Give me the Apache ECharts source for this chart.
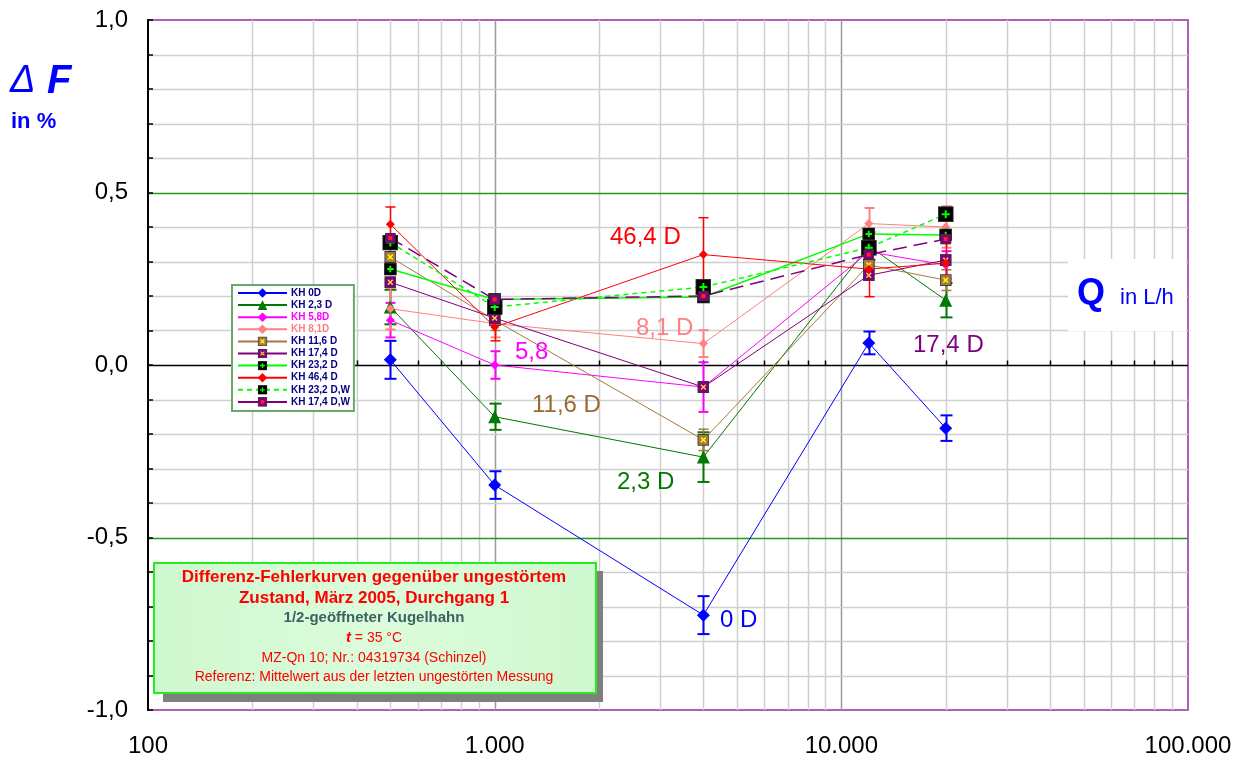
<!DOCTYPE html>
<html>
<head>
<meta charset="utf-8">
<title>Differenz-Fehlerkurven</title>
<script src="https://cdn.jsdelivr.net/npm/echarts@6/dist/echarts.min.js"></script>
<style>
  html, body { margin: 0; padding: 0; background: #ffffff; }
  #chart { width: 1245px; height: 762px; }
</style>
</head>
<body>
<div id="chart"></div>
<script>
// Durchfluss Q in L/h
const flows = [500, 1000, 4000, 12000, 20000];

// Differenz-Fehler ΔF in % je Kugelhahn-Stellung, mit Streuung
const kh0 = [0.015, -0.348, -0.725, 0.064, -0.183];
const kh0Err = [0.055, 0.04, 0.055, 0.033, 0.037];
const kh23 = [0.168, -0.150, -0.267, 0.345, 0.188];
const kh23Err = [0.05, 0.038, 0.072, 0.04, 0.05];
const kh58 = [0.13, 0.0, -0.064, 0.328, 0.29];
const kh58Err = [0.05, 0.04, 0.072, 0.04, 0.04];
const kh81 = [0.163, 0.12, 0.062, 0.41, 0.40];
const kh81Err = [0.06, 0.04, 0.039, 0.045, 0.06];
const kh116 = [0.313, 0.13, -0.217, 0.29, 0.246];
const kh116Err = [0.03, 0.03, 0.031, 0.03, 0.03];
const kh174 = [0.24, 0.136, -0.064, 0.26, 0.304];
const kh232 = [0.278, 0.19, 0.197, 0.38, 0.377];
const kh464 = [0.408, 0.11, 0.32, 0.278, 0.295];
const kh464Err = [0.05, 0.04, 0.107, 0.08, 0.06];
const kh232w = [0.355, 0.168, 0.226, 0.34, 0.437];
const kh174w = [0.368, 0.19, 0.2, 0.32, 0.365];

// Achsenbeschriftung und Gitter
const xTicks = [100, 1000, 10000, 100000];
const minorQ = [200, 300, 400, 500, 600, 700, 800, 900,
                2000, 3000, 4000, 5000, 6000, 7000, 8000, 9000,
                20000, 30000, 40000, 50000, 60000, 70000, 80000, 90000];
const majorQ = [1000, 10000];
const yLines = [-0.9, -0.8, -0.7, -0.6, -0.4, -0.3, -0.2, -0.1,
                0.1, 0.2, 0.3, 0.4, 0.6, 0.7, 0.8, 0.9];
const greenLines = [-0.5, 0.5];

const FONT = "'Liberation Sans', Arial, Helvetica, sans-serif";

// compound square markers as small SVG images
function svgSymbol(size, fill, inner) {
  const svg = '<svg xmlns="http://www.w3.org/2000/svg" width="' + size + '" height="' + size +
    '" viewBox="0 0 ' + size + ' ' + size + '">' +
    '<rect x="0.5" y="0.5" width="' + (size - 1) + '" height="' + (size - 1) + '" fill="' + fill +
    '" stroke="#303030" stroke-width="1"/>' + inner + '</svg>';
  return 'image://data:image/svg+xml;charset=utf-8,' + encodeURIComponent(svg);
}
function crossX(size, color) {
  const a = size * 0.3, b = size * 0.7;
  return '<path d="M' + a + ' ' + a + 'L' + b + ' ' + b + 'M' + b + ' ' + a + 'L' + a + ' ' + b +
    '" stroke="' + color + '" stroke-width="1.5"/>';
}
function plus(size, color) {
  const c = size / 2, a = size * 0.25, b = size * 0.75;
  return '<path d="M' + c + ' ' + a + 'L' + c + ' ' + b + 'M' + a + ' ' + c + 'L' + b + ' ' + c +
    '" stroke="' + color + '" stroke-width="2"/>';
}
function dot(size, color) {
  const s = size * 0.36, o = (size - s) / 2;
  return '<rect x="' + o + '" y="' + o + '" width="' + s + '" height="' + s + '" fill="' + color + '"/>';
}

const symBrown = svgSymbol(12, '#a8783f', crossX(12, '#ffff00'));
const symPurple = svgSymbol(12, '#800080', crossX(12, '#ffcc33'));
const symBlack = svgSymbol(13, '#000000', plus(13, '#00ff00'));
const symBlackBig = svgSymbol(16, '#000000', plus(16, '#00ff00'));
const symPurpleRed = svgSymbol(11, '#800080', dot(11, '#ff2020'));

const seriesDefs = [
  { name: 'KH 0D', data: kh0, err: kh0Err, color: '#0000ff', symbol: 'diamond', size: 13, errWidth: 2, cap: 6 },
  { name: 'KH 2,3 D', data: kh23, err: kh23Err, color: '#007a00', symbol: 'triangle', size: 13, errWidth: 2, cap: 6 },
  { name: 'KH 5,8D', data: kh58, err: kh58Err, color: '#ff00ff', symbol: 'diamond', size: 9, errWidth: 2, cap: 5 },
  { name: 'KH 8,1D', data: kh81, err: kh81Err, color: '#ff8080', symbol: 'diamond', size: 9, errWidth: 2, cap: 5 },
  { name: 'KH 11,6 D', data: kh116, err: kh116Err, color: '#a8783f', symbol: symBrown, size: 12, errWidth: 1.5, cap: 5 },
  { name: 'KH 17,4 D', data: kh174, color: '#800080', symbol: symPurple, size: 12 },
  { name: 'KH 23,2 D', data: kh232, color: '#00ff00', symbol: symBlack, size: 13, lineWidth: 1.5 },
  { name: 'KH 46,4 D', data: kh464, err: kh464Err, color: '#ff0000', symbol: 'diamond', size: 9, errWidth: 1.5, cap: 5 },
  { name: 'KH 23,2 D,W', data: kh232w, color: '#00ff00', symbol: symBlackBig, size: 16, lineWidth: 1.5, dash: [5, 4] },
  { name: 'KH 17,4 D,W', data: kh174w, color: '#800080', symbol: symPurpleRed, size: 11, lineWidth: 1.5, dash: [14, 7] }
];

// background grid, coloured reference lines and minor ticks on the zero line
function renderGrid(params, api) {
  const cs = params.coordSys;
  const left = cs.x, right = cs.x + cs.width, top = cs.y, bottom = cs.y + cs.height;
  const children = [];
  minorQ.forEach(function (q) {
    const x = Math.round(api.coord([q, 0])[0]) + 0.5;
    children.push({ type: 'line', shape: { x1: x, y1: top, x2: x, y2: bottom },
      style: { stroke: '#cfcfcf', lineWidth: 1.5 } });
  });
  majorQ.forEach(function (q) {
    const x = Math.round(api.coord([q, 0])[0]) + 0.5;
    children.push({ type: 'line', shape: { x1: x, y1: top, x2: x, y2: bottom },
      style: { stroke: '#9a9a9a', lineWidth: 1.5 } });
  });
  yLines.forEach(function (v) {
    const y = Math.round(api.coord([1000, v])[1]) + 0.5;
    children.push({ type: 'line', shape: { x1: left, y1: y, x2: right, y2: y },
      style: { stroke: '#cfcfcf', lineWidth: 1.5 } });
  });
  greenLines.forEach(function (v) {
    const y = Math.round(api.coord([1000, v])[1]) + 0.5;
    children.push({ type: 'line', shape: { x1: left, y1: y, x2: right, y2: y },
      style: { stroke: '#1f9a1f', lineWidth: 1.5 } });
  });
  const y0 = Math.round(api.coord([1000, 0])[1]) + 0.5;
  children.push({ type: 'line', shape: { x1: left, y1: y0, x2: right, y2: y0 },
    style: { stroke: '#000000', lineWidth: 1.5 } });
  minorQ.forEach(function (q) {
    const x = Math.round(api.coord([q, 0])[0]) + 0.5;
    children.push({ type: 'line', shape: { x1: x, y1: y0, x2: x, y2: y0 - 5 },
      style: { stroke: '#000000', lineWidth: 1.5 } });
  });
  return { type: 'group', children: children };
}

function errRenderer(color, width, cap) {
  return function (params, api) {
    const q = api.value(0), v = api.value(1), e = api.value(2);
    const hi = api.coord([q, v + e]);
    const lo = api.coord([q, v - e]);
    const x = Math.round(hi[0]) + 0.5;
    return {
      type: 'group',
      children: [
        { type: 'line', shape: { x1: x, y1: hi[1], x2: x, y2: lo[1] }, style: { stroke: color, lineWidth: width } },
        { type: 'line', shape: { x1: x - cap, y1: hi[1], x2: x + cap, y2: hi[1] }, style: { stroke: color, lineWidth: width } },
        { type: 'line', shape: { x1: x - cap, y1: lo[1], x2: x + cap, y2: lo[1] }, style: { stroke: color, lineWidth: width } }
      ]
    };
  };
}

const series = [{
  type: 'custom', name: 'grid', silent: true, z: 0,
  data: [[1000, 0]], renderItem: renderGrid, clip: false
}];

seriesDefs.forEach(function (d) {
  if (d.err) {
    series.push({
      type: 'custom', name: d.name + ' err', silent: true, z: 2,
      data: flows.map(function (q, i) { return [q, d.data[i], d.err[i]]; }),
      encode: { x: 0, y: 1 },
      renderItem: errRenderer(d.color, d.errWidth, d.cap)
    });
  }
});

seriesDefs.forEach(function (d) {
  series.push({
    type: 'line', name: d.name, z: 3,
    data: flows.map(function (q, i) { return [q, d.data[i]]; }),
    symbol: d.symbol, symbolSize: d.size, showSymbol: true,
    itemStyle: { color: d.color, borderWidth: 0 },
    lineStyle: { color: d.color, width: d.lineWidth || 1, type: d.dash || 'solid' },
    emphasis: { disabled: true }
  });
});

const legendData = seriesDefs.map(function (d) {
  const item = { name: d.name };
  if (d.name === 'KH 5,8D') item.textStyle = { color: '#ff00ff' };
  if (d.name === 'KH 8,1D') item.textStyle = { color: '#ff8080' };
  if (d.name === 'KH 17,4 D,W') item.lineStyle = { type: 'solid' };
  return item;
});

function fmtQ(v) {
  return String(Math.round(v)).replace(/\B(?=(\d{3})+(?!\d))/g, '.');
}
function fmtF(v) {
  const t = Math.round(v * 10);
  if (t % 5 !== 0) return '';
  const s = (Math.abs(t) / 10).toFixed(1).replace('.', ',');
  return t < 0 ? '-' + s : s;
}

// free-standing curve labels
function curveLabel(text, x, y, color) {
  return { type: 'text', left: x, top: y, z: 50,
    style: { text: text, fill: color, font: '24px ' + FONT } };
}

const chart = echarts.init(document.getElementById('chart'), null, { renderer: 'canvas' });
chart.setOption({
  animation: false,
  backgroundColor: '#ffffff',
  grid: { left: 148, right: 57, top: 20, bottom: 52, show: true,
    borderColor: '#b060b0', borderWidth: 2, backgroundColor: 'transparent' },
  xAxis: {
    type: 'log', logBase: 10, min: xTicks[0], max: xTicks[xTicks.length - 1],
    axisLine: { show: false, onZero: false }, axisTick: { show: false },
    splitLine: { show: false }, minorTick: { show: false },
    axisLabel: { formatter: fmtQ, fontSize: 24, fontFamily: FONT, color: '#000000', margin: 24 }
  },
  yAxis: {
    type: 'value', min: -1, max: 1, interval: 0.1,
    axisLine: { show: true, lineStyle: { color: '#000000', width: 2 } },
    axisTick: { show: true, inside: true, length: 5, lineStyle: { color: '#000000', width: 1.5 } },
    splitLine: { show: false },
    axisLabel: { formatter: fmtF, interval: 0, fontSize: 24, fontFamily: FONT, color: '#000000', margin: 20 }
  },
  legend: {
    data: legendData, orient: 'vertical', left: 232, top: 285,
    itemWidth: 49, itemHeight: 12, itemGap: 2.1, itemStyle: { borderWidth: 0 },
    padding: [3, 4, 4, 5], backgroundColor: '#ffffff',
    borderColor: '#6aa86a', borderWidth: 2, selectedMode: false,
    textStyle: { fontSize: 10, fontWeight: 'bold', fontFamily: FONT, color: '#000080', padding: [0, 0, 0, -1] }
  },
  series: series,
  graphic: [
    // Q axis title on a white patch
    { type: 'rect', left: 1068, top: 259, z: 40, shape: { width: 118, height: 72 },
      style: { fill: '#ffffff' } },
    { type: 'text', left: 1077, top: 276, z: 41,
      style: { text: 'Q', fill: '#0000ff', font: 'bold 36px ' + FONT } },
    { type: 'text', left: 1120, top: 287, z: 41,
      style: { text: 'in L/h', fill: '#0000ff', font: '22px ' + FONT } },
    // ΔF axis title
    { type: 'text', left: 10, top: 62, z: 41,
      style: { text: 'Δ', fill: '#0000ff', font: 'italic 38px ' + FONT } },
    { type: 'text', left: 47, top: 62, z: 41,
      style: { text: 'F', fill: '#0000ff', font: 'italic bold 40px ' + FONT } },
    { type: 'text', left: 11, top: 111, z: 41,
      style: { text: 'in %', fill: '#0000ff', font: 'bold 22px ' + FONT } },
    // curve labels
    curveLabel('46,4 D', 610, 225, '#ff0000'),
    curveLabel('8,1 D', 636, 316, '#ff8080'),
    curveLabel('5,8', 515, 340, '#ff00ff'),
    curveLabel('11,6 D', 532, 393, '#9a6a35'),
    curveLabel('2,3 D', 617, 470, '#007a00'),
    curveLabel('0 D', 720, 608, '#0000ff'),
    curveLabel('17,4 D', 913, 333, '#800080'),
    // info box with shadow
    { type: 'rect', left: 163, top: 571, z: 60, shape: { width: 440, height: 131 },
      style: { fill: '#7f7f7f' } },
    { type: 'rect', left: 153, top: 562, z: 61, shape: { width: 442, height: 130 },
      style: {
        fill: new echarts.graphic.LinearGradient(0, 0, 1, 0, [
          { offset: 0, color: '#cff8cf' }, { offset: 0.5, color: '#dcfcdc' }, { offset: 1, color: '#cff8cf' }
        ]),
        stroke: '#22ee22', lineWidth: 2
      } },
    { type: 'text', z: 62, x: 374, y: 577,
      style: { text: 'Differenz-Fehlerkurven gegenüber ungestörtem', fill: '#ff0000',
        font: 'bold 17px ' + FONT, align: 'center', verticalAlign: 'middle' } },
    { type: 'text', z: 62, x: 374, y: 598,
      style: { text: 'Zustand, März 2005, Durchgang 1', fill: '#ff0000',
        font: 'bold 17px ' + FONT, align: 'center', verticalAlign: 'middle' } },
    { type: 'text', z: 62, x: 374, y: 618,
      style: { text: '1/2-geöffneter Kugelhahn', fill: '#3a6363',
        font: 'bold 15px ' + FONT, align: 'center', verticalAlign: 'middle' } },
    { type: 'text', z: 62, x: 374, y: 638,
      style: { text: '{t|t} = 35 °C', fill: '#ff0000', font: '14px ' + FONT,
        align: 'center', verticalAlign: 'middle',
        rich: { t: { fontStyle: 'italic', fontWeight: 'bold', fontSize: 15, fontFamily: FONT, fill: '#ff0000' } } } },
    { type: 'text', z: 62, x: 374, y: 658,
      style: { text: 'MZ-Qn 10; Nr.: 04319734 (Schinzel)', fill: '#ff0000',
        font: '14px ' + FONT, align: 'center', verticalAlign: 'middle' } },
    { type: 'text', z: 62, x: 374, y: 677,
      style: { text: 'Referenz: Mittelwert aus der letzten ungestörten Messung', fill: '#ff0000',
        font: '14px ' + FONT, align: 'center', verticalAlign: 'middle' } }
  ]
});
</script>
</body>
</html>
